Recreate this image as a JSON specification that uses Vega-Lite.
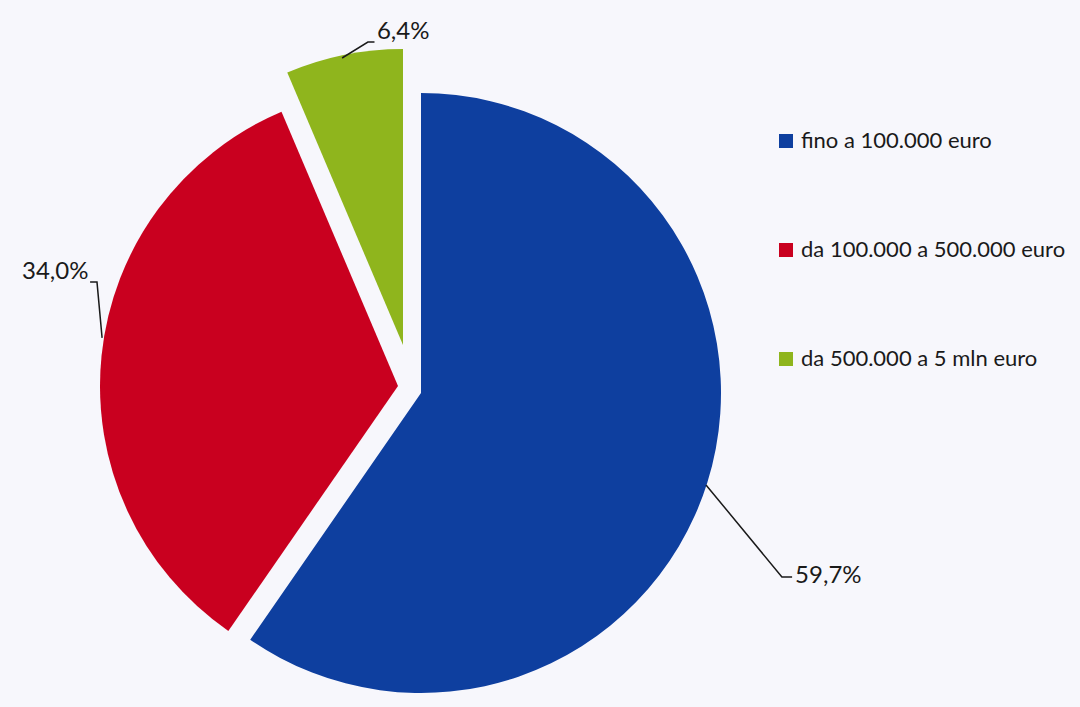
{
  "$schema": "https://vega.github.io/schema/vega-lite/v6.json",
  "width": 818,
  "height": 638,
  "autosize": {"type": "none"},
  "padding": {"left": 0, "top": 69, "right": 262, "bottom": 0},
  "background": "#f7f7fc",
  "config": {"view": {"stroke": null}, "font": "Lato"},
  "datasets": {
    "slices": [
      {"cat": "fino a 100.000 euro", "value": 59.7, "ord": 1},
      {"cat": "da 100.000 a 500.000 euro", "value": 34.0, "ord": 2},
      {"cat": "da 500.000 a 5 mln euro", "value": 6.4, "ord": 3}
    ],
    "leaders": [
      {"seg": "a", "ord": 1, "px": 0.99, "py": -0.323},
      {"seg": "a", "ord": 2, "px": 1.243, "py": -0.63},
      {"seg": "a", "ord": 3, "px": 1.277, "py": -0.63},
      {"seg": "b", "ord": 1, "px": -1.063, "py": 0.353},
      {"seg": "b", "ord": 2, "px": -1.04, "py": 0.353},
      {"seg": "b", "ord": 3, "px": -1.023, "py": 0.167},
      {"seg": "c", "ord": 1, "px": -0.223, "py": 1.1},
      {"seg": "c", "ord": 2, "px": -0.137, "py": 1.153},
      {"seg": "c", "ord": 3, "px": -0.115, "py": 1.153}
    ],
    "labels": [
      {"label": "59,7%", "px": 1.287, "py": -0.627},
      {"label": "34,0%", "px": -1.29, "py": 0.387},
      {"label": "6,4%", "px": -0.107, "py": 1.187}
    ]
  },
  "layer": [
    {
      "data": {"name": "slices"},
      "transform": [
        {"stack": "value", "groupby": [], "sort": [{"field": "ord"}], "as": ["s0", "s1"]},
        {"filter": "datum.ord == 1"}
      ],
      "mark": {"type": "arc", "radius": 300, "xOffset": 12, "yOffset": 5},
      "encoding": {
        "theta": {"field": "s0", "type": "quantitative", "scale": {"domain": [0, 100.1]}},
        "theta2": {"field": "s1"},
        "color": {
          "field": "cat", "type": "nominal",
          "scale": {
            "domain": ["fino a 100.000 euro", "da 100.000 a 500.000 euro", "da 500.000 a 5 mln euro"],
            "range": ["#0e3f9f", "#c9001f", "#8fb51d"]
          },
          "legend": {
            "orient": "none", "legendX": 775, "legendY": 61, "title": null,
            "symbolType": "square", "symbolSize": 196, "symbolStrokeWidth": 0,
            "labelFont": "Lato", "labelFontSize": 22, "labelColor": "#1a1a1a",
            "labelOffset": 4, "labelLimit": 400, "rowPadding": 87, "padding": 0
          }
        }
      }
    },
    {
      "data": {"name": "slices"},
      "transform": [
        {"stack": "value", "groupby": [], "sort": [{"field": "ord"}], "as": ["s0", "s1"]},
        {"filter": "datum.ord == 2"}
      ],
      "mark": {"type": "arc", "radius": 298, "xOffset": -11, "yOffset": -2},
      "encoding": {
        "theta": {"field": "s0", "type": "quantitative"},
        "theta2": {"field": "s1"},
        "color": {"field": "cat", "type": "nominal"}
      }
    },
    {
      "data": {"name": "slices"},
      "transform": [
        {"stack": "value", "groupby": [], "sort": [{"field": "ord"}], "as": ["s0", "s1"]},
        {"filter": "datum.ord == 3"}
      ],
      "mark": {"type": "arc", "radius": 296, "xOffset": -6, "yOffset": -43},
      "encoding": {
        "theta": {"field": "s0", "type": "quantitative"},
        "theta2": {"field": "s1"},
        "color": {"field": "cat", "type": "nominal"}
      }
    },
    {
      "data": {"name": "leaders"},
      "mark": {"type": "line", "color": "#1a1a1a", "strokeWidth": 1.5},
      "encoding": {
        "x": {"field": "px", "type": "quantitative", "axis": null, "scale": {"domain": [-1.3633, 1.3633], "nice": false, "zero": false}},
        "y": {"field": "py", "type": "quantitative", "axis": null, "scale": {"domain": [-1.0633, 1.0633], "nice": false, "zero": false}},
        "detail": {"field": "seg"},
        "order": {"field": "ord"}
      }
    },
    {
      "data": {"name": "labels"},
      "mark": {"type": "text", "align": "left", "baseline": "middle", "font": "Lato", "fontSize": 24, "color": "#1a1a1a"},
      "encoding": {
        "x": {"field": "px", "type": "quantitative"},
        "y": {"field": "py", "type": "quantitative"},
        "text": {"field": "label"}
      }
    }
  ]
}
